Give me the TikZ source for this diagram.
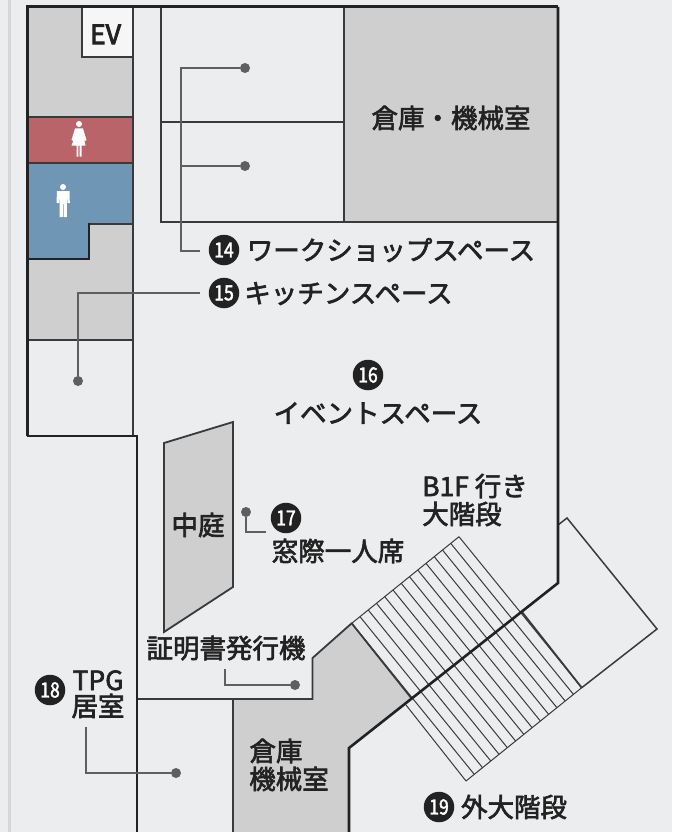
\documentclass[tikz,border=0pt]{standalone}
\usepackage{fontspec}
\setmainfont{Noto Sans CJK JP}
\newfontfamily\labelfont[FakeBold=2.4]{Noto Sans CJK JP}
\newfontfamily\evfont[FakeBold=3.4]{Noto Sans CJK JP}
\newfontfamily\numfont[FakeStretch=0.84,FakeBold=2]{Noto Sans CJK JP}
\definecolor{bgc}{HTML}{ECEDEF}
\definecolor{greyc}{HTML}{CFCFCF}
\definecolor{redc}{HTML}{B96468}
\definecolor{bluec}{HTML}{7096B5}
\definecolor{wallc}{HTML}{222222}
\definecolor{innerc}{HTML}{3A3A3A}
\definecolor{leadc}{HTML}{5F5F5F}
\definecolor{bandc}{HTML}{D6D6D6}
\tikzset{
  wall/.style={draw=wallc,line width=2.8pt,line join=miter},
  inner/.style={draw=innerc,line width=1.8pt,line join=miter},
  thin/.style={draw=innerc,line width=1pt},
  leader/.style={draw=leadc,line width=2.3pt,line join=miter},
  dotn/.style={circle,fill=leadc,inner sep=0pt,minimum size=10pt},
  lab/.style={inner sep=0pt,text height=23.3pt,text depth=3.2pt,text=wallc,font=\fontsize{26.5}{26.5}\labelfont},
  num/.style={circle,fill=wallc,inner sep=0pt,minimum size=30.5pt,text=white,font=\fontsize{21}{21}\numfont},
  icon/.style={fill=white,draw=none}
}
\begin{document}
\begin{tikzpicture}[x=1pt,y=-1pt]
\useasboundingbox (0,0) rectangle (672,832);
\fill[bgc] (0,0) rectangle (672,832);
\fill[bandc] (8,0) rectangle (11,832);
% fills
\fill[greyc] (27,7) rectangle (133,117);
\fill[greyc] (27,224) rectangle (133,340);
\fill[redc] (27,117) rectangle (133,163);
\fill[bluec] (27,163) -- (133,163) -- (133,224) -- (89,224) -- (89,259) -- (27,259) -- cycle;
\fill[bgc!50!white] (82,7) rectangle (133,57);
\fill[greyc] (344,7) rectangle (558,222);
\fill[greyc] (164,443) -- (233,422) -- (233,587) -- (164,632) -- cycle;
\fill[greyc] (233,699) -- (312.5,699) -- (312.5,658) -- (352,623) -- (412,699) -- (349,748) -- (349,832) -- (233,832) -- cycle;
% left core lines
\draw[inner] (82,7) -- (82,57) -- (133,57);
\draw[inner] (27,117) -- (133,117);
\draw[inner] (27,163) -- (133,163);
\draw[inner] (133,224) -- (89,224);
\draw[wall,line width=2.2pt] (89,223) -- (89,259) -- (27,259);
\draw[inner] (27,340) -- (133,340);
\draw[inner] (133,7) -- (133,436);
% rooms
\draw[inner] (161,7) -- (161,222) -- (558,222);
\draw[inner] (344,7) -- (344,222);
\draw[inner] (161,122) -- (344,122);
% courtyard
\draw[inner] (164,443) -- (233,422) -- (233,587) -- (164,632) -- cycle;
% lower rooms
\draw[inner] (137,699) -- (312.5,699) -- (312.5,658) -- (352,623);
\draw[inner] (233,699) -- (233,832);
% stairs
\foreach \k in {0,...,13}{
  \pgfmathsetmacro\qx{351.7+\k*(459-351.7)/13}
  \pgfmathsetmacro\qy{623.3+\k*(536.7-623.3)/13}
  \pgfmathsetmacro\px{466+(\k+1)*(581.7-466)/14}
  \pgfmathsetmacro\py{781+(\k+1)*(687.7-781)/14}
  \draw[thin] (\qx,\qy) -- (\px,\py);
}
\draw[thin] (406,705) -- (466,781);
\draw[thin] (351.7,623.3) -- (459,536.7);
\draw[thin] (466,781) -- (581.7,687.7);
\draw[inner] (351.7,623.3) -- (412,699);
\draw[inner] (522,612) -- (581.7,687.7);
\draw[inner,line width=1.5pt] (581.7,687.7) -- (657,629) -- (567,518) -- (558,525);
% outer walls
\draw[wall,line width=3pt] (27,436) -- (27,7) -- (558,7);
\draw[wall,line width=2.6pt] (558,7) -- (558,583) -- (349,748) -- (349,832);
\draw[wall] (27,436) -- (137,436) -- (137,832);
% icons
\fill[icon] (79,124) circle (3pt);
\fill[icon] (75,128.5) -- (83,128.5) -- (86.5,140) -- (85,141) -- (84,139) -- (85.5,145.5) -- (81.5,145.5) -- (81.5,156.5) -- (79.6,156.5) -- (79.6,145.5) -- (78.4,145.5) -- (78.4,156.5) -- (76.5,156.5) -- (76.5,145.5) -- (71.5,145.5) -- (74,139) -- (73,141) -- (71.5,140) -- cycle;
\fill[icon] (63,187) circle (3pt);
\fill[icon] (57,191) -- (69.5,191) -- (69.8,203) -- (67.5,203) -- (67,196) -- (66.8,217) -- (63.7,217) -- (63.7,204) -- (62.8,204) -- (62.8,217) -- (59.7,217) -- (59.5,196) -- (59,203) -- (56.5,203) -- cycle;
% texts
\node[lab,font=\fontsize{26.5}{26.5}\evfont] (ev) at (105.5,34) {EV};
\node[lab] (store1) at (451,118) {倉庫・機械室};
\node[lab] (t14) at (391,250) {ワークショップスペース};
\node[lab] (t15) at (348.5,293) {キッチンスペース};
\node[lab] (t16) at (378,413) {イベントスペース};
\node[lab] (court) at (198,525) {中庭};
\node[lab] (t17) at (338,551) {窓際一人席};
\node[lab] (b1a) at (475,486) {B1F 行き};
\node[lab] (b1b) at (462,514) {大階段};
\node[lab] (cert) at (226,648) {証明書発行機};
\node[lab] (t18a) at (98,680) {TPG};
\node[lab] (t18b) at (98,706) {居室};
\node[lab] (store2a) at (276,751) {倉庫};
\node[lab] (store2b) at (289,779) {機械室};
\node[lab] (t19) at (514,807) {外大階段};
% numbers
\node[num] (n14) at (224,250) {14};
\node[num] (n15) at (224,293) {15};
\node[num] (n16) at (368,375) {16};
\node[num] (n17) at (286,518) {17};
\node[num] (n18) at (50,690) {18};
\node[num] (n19) at (439,807) {19};
% leaders
\node[dotn] (d14a) at (245,68) {};
\node[dotn] (d14b) at (245,166) {};
\node[dotn] (d15) at (78,381) {};
\node[dotn] (d17) at (246,512) {};
\node[dotn] (dcert) at (295,685) {};
\node[dotn] (d18) at (176,773) {};
\coordinate (e14) at (200,251);
\coordinate (c14) at (181,251);
\coordinate (c14a) at (181,68);
\coordinate (c14b) at (181,166);
\coordinate (e15) at (200,293);
\coordinate (c15) at (78,293);
\coordinate (c17) at (246,532);
\coordinate (e17) at (266,532);
\coordinate (ecert) at (225,669);
\coordinate (ccert) at (225,685);
\coordinate (e18) at (86,727);
\coordinate (c18) at (86,773);
\draw[leader] (d14a) -- (c14a) -- (c14) -- (e14);
\draw[leader] (d14b) -- (c14b);
\draw[leader] (e15) -- (c15) -- (d15);
\draw[leader] (d17) -- (c17) -- (e17);
\draw[leader] (ecert) -- (ccert) -- (dcert);
\draw[leader] (e18) -- (c18) -- (d18);
\end{tikzpicture}
\end{document}
